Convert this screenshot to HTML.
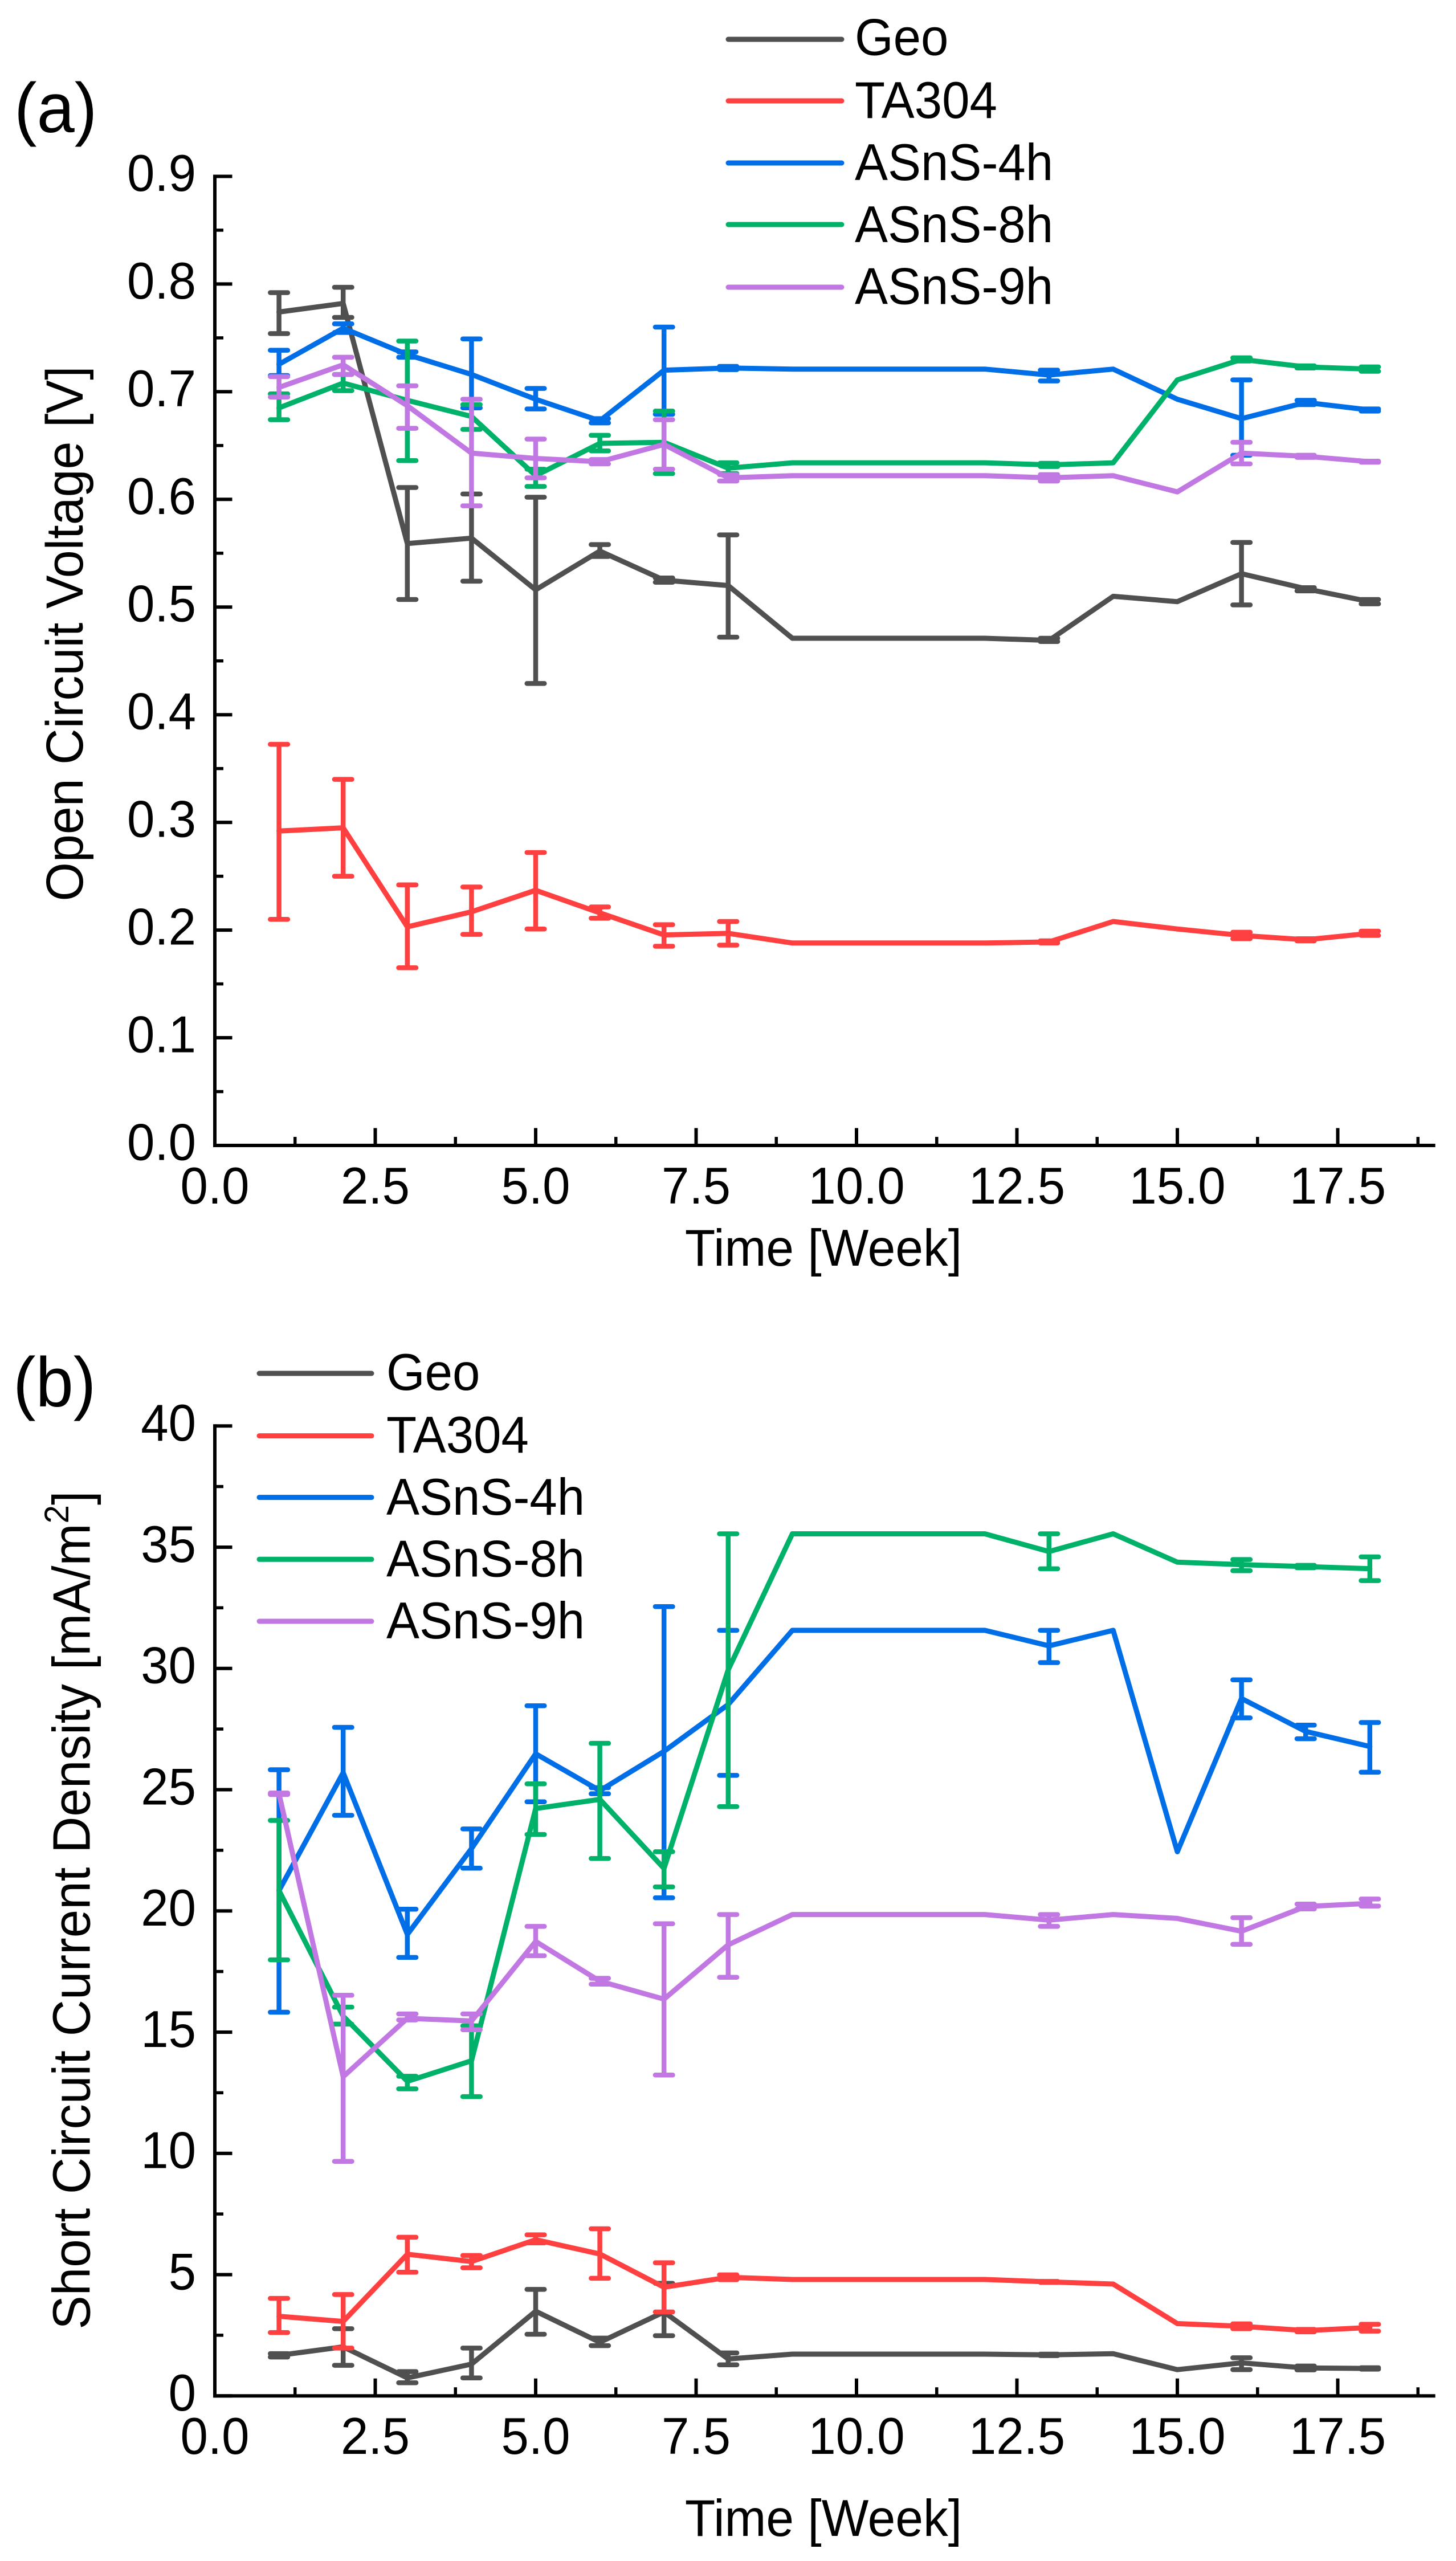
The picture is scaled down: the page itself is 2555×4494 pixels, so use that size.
<!DOCTYPE html>
<html lang="en">
<head>
<meta charset="utf-8">
<title>Open circuit voltage and short circuit current density over time</title>
<style>
html,body{margin:0;padding:0;background:#fff}
svg{display:block}
text{font-family:"Liberation Sans",Arial,sans-serif;fill:#000}
</style>
</head>
<body>
<svg id="figure" xmlns="http://www.w3.org/2000/svg" width="2555" height="4494" viewBox="0 0 2555 4494">
  <rect x="0" y="0" width="2555" height="4494" fill="#fff"/>

  <text x="25" y="232" font-size="119">(a)</text>
  <text x="23" y="2468" font-size="119">(b)</text>

  <text x="145" y="1112" font-size="88" text-anchor="middle" transform="rotate(-90 145 1112)">Open Circuit Voltage [V]</text>
  <text x="1445" y="2221" font-size="87.5" text-anchor="middle">Time [Week]</text>
  <text x="157.5" y="3352" font-size="89" text-anchor="middle" transform="rotate(-90 157.5 3352)">Short Circuit Current Density [mA/m<tspan dy="-36" font-size="58">2</tspan><tspan dy="36">]</tspan></text>
  <text x="1445" y="4450" font-size="87.5" text-anchor="middle">Time [Week]</text>

  <g id="panel-a"></g>
  <g id="panel-b"></g>

  <g stroke-width="9" stroke-linecap="round">
    <g><line x1="1278" y1="69" x2="1477" y2="69" stroke="#505050"/><text x="1500" y="96.5" font-size="87" stroke="none">Geo</text></g>
    <g><line x1="1278" y1="177" x2="1477" y2="177" stroke="#ff4040"/><text x="1500" y="207" font-size="87" stroke="none">TA304</text></g>
    <g><line x1="1278" y1="286" x2="1477" y2="286" stroke="#006ee6"/><text x="1500" y="316" font-size="87" stroke="none">ASnS-4h</text></g>
    <g><line x1="1278" y1="394" x2="1477" y2="394" stroke="#00b16a"/><text x="1500" y="425" font-size="87" stroke="none">ASnS-8h</text></g>
    <g><line x1="1278" y1="504" x2="1477" y2="504" stroke="#c278e2"/><text x="1500" y="533.5" font-size="87" stroke="none">ASnS-9h</text></g>
  </g>
  <g stroke-width="9" stroke-linecap="round">
    <g><line x1="455" y1="2410" x2="652" y2="2410" stroke="#505050"/><text x="678" y="2439" font-size="87" stroke="none">Geo</text></g>
    <g><line x1="455" y1="2519.6" x2="652" y2="2519.6" stroke="#ff4040"/><text x="678" y="2549" font-size="87" stroke="none">TA304</text></g>
    <g><line x1="455" y1="2627.6" x2="652" y2="2627.6" stroke="#006ee6"/><text x="678" y="2658" font-size="87" stroke="none">ASnS-4h</text></g>
    <g><line x1="455" y1="2736.3" x2="652" y2="2736.3" stroke="#00b16a"/><text x="678" y="2766.5" font-size="87" stroke="none">ASnS-8h</text></g>
    <g><line x1="455" y1="2845" x2="652" y2="2845" stroke="#c278e2"/><text x="678" y="2875" font-size="87" stroke="none">ASnS-9h</text></g>
  </g>
</svg>

<script>
// ---- shared categories ----
const weeks = [1, 2, 3, 4, 5, 6, 7, 8, 9, 12, 13, 14, 15, 16, 17, 18];
const xTickLabels = ['0.0', '2.5', '5.0', '7.5', '10.0', '12.5', '15.0', '17.5'];
const xMinorTicks = [1.25, 3.75, 6.25, 8.75, 11.25, 13.75, 16.25, 18.75];
const seriesNames = ['geo', 'ta304', 'asns-4h', 'asns-8h', 'asns-9h'];
const seriesColors = ['#505050', '#ff4040', '#006ee6', '#00b16a', '#c278e2'];

// ---- panel (a): open circuit voltage [V] ----
const vocTickLabels = ['0.0', '0.1', '0.2', '0.3', '0.4', '0.5', '0.6', '0.7', '0.8', '0.9'];
const vocMinorTicks = [0.05, 0.15, 0.25, 0.35, 0.45, 0.55, 0.65, 0.75, 0.85];

const vocGeo   = [0.774, 0.782, 0.559, 0.564, 0.516, 0.552, 0.525, 0.520, 0.471, 0.471, 0.469, 0.510, 0.505, 0.531, 0.517, 0.505];
const vocGeoHi = [0.792, 0.797, 0.611, 0.605, 0.602, 0.558, 0.527, 0.567, null, null, 0.471, null, null, 0.560, 0.518, 0.507];
const vocGeoLo = [0.754, 0.769, 0.507, 0.524, 0.429, 0.547, 0.523, 0.472, null, null, 0.468, null, null, 0.502, 0.515, 0.503];

const vocTa   = [0.292, 0.295, 0.203, 0.217, 0.237, 0.216, 0.1955, 0.197, 0.188, 0.188, 0.189, 0.208, 0.201, 0.195, 0.191, 0.197];
const vocTaHi = [0.3725, 0.340, 0.242, 0.240, 0.272, 0.2215, 0.205, 0.208, null, null, 0.190, null, null, 0.198, 0.192, 0.199];
const vocTaLo = [0.210, 0.250, 0.165, 0.196, 0.201, 0.211, 0.185, 0.186, null, null, 0.188, null, null, 0.192, 0.190, 0.195];

const voc4h   = [0.7255, 0.759, 0.7345, 0.716, 0.693, 0.673, 0.720, 0.722, 0.721, 0.721, 0.7155, 0.721, 0.693, 0.675, 0.690, 0.683];
const voc4hHi = [0.7385, 0.763, 0.737, 0.749, 0.703, 0.675, 0.760, 0.7235, null, null, 0.720, null, null, 0.711, 0.692, 0.684];
const voc4hLo = [0.715, 0.755, 0.732, 0.685, 0.684, 0.671, 0.679, 0.7205, null, null, 0.710, null, null, 0.641, 0.688, 0.682];

const voc8h   = [0.685, 0.708, 0.692, 0.677, 0.622, 0.652, 0.653, 0.629, 0.634, 0.634, 0.632, 0.634, 0.711, 0.730, 0.723, 0.721];
const voc8hHi = [0.698, 0.716, 0.747, 0.688, 0.628, 0.6595, 0.682, 0.634, null, null, 0.6335, null, null, 0.7315, 0.724, 0.723];
const voc8hLo = [0.674, 0.701, 0.636, 0.665, 0.612, 0.645, 0.624, 0.624, null, null, 0.6305, null, null, 0.7285, 0.722, 0.719];

const voc9h   = [0.704, 0.725, 0.687, 0.643, 0.638, 0.635, 0.651, 0.620, 0.622, 0.622, 0.620, 0.622, 0.607, 0.643, 0.640, 0.635];
const voc9hHi = [0.714, 0.732, 0.7055, 0.693, 0.656, 0.637, 0.674, 0.623, null, null, 0.623, null, null, 0.653, 0.641, 0.6355];
const voc9hLo = [0.695, 0.716, 0.666, 0.594, 0.620, 0.633, 0.628, 0.617, null, null, 0.617, null, null, 0.633, 0.639, 0.6345];

// ---- panel (b): short circuit current density [mA/m2] ----
const jscTickLabels = ['0', '5', '10', '15', '20', '25', '30', '35', '40'];
const jscMinorTicks = [2.5, 7.5, 12.5, 17.5, 22.5, 27.5, 32.5, 37.5];

const jscGeo   = [1.67, 2.02, 0.74, 1.31, 3.49, 2.21, 3.46, 1.52, 1.72, 1.72, 1.69, 1.74, 1.08, 1.36, 1.15, 1.13];
const jscGeoHi = [1.74, 2.77, 1.00, 1.97, 4.39, 2.38, 4.64, 1.77, null, null, 1.72, null, null, 1.57, 1.23, 1.16];
const jscGeoLo = [1.60, 1.26, 0.54, 0.74, 2.54, 2.07, 2.48, 1.28, null, null, 1.66, null, null, 1.08, 1.07, 1.10];

const jscTa   = [3.28, 3.07, 5.84, 5.54, 6.44, 5.85, 4.48, 4.89, 4.80, 4.80, 4.70, 4.61, 2.98, 2.87, 2.69, 2.82];
const jscTaHi = [4.02, 4.18, 6.54, 5.79, 6.64, 6.89, 5.49, 4.99, null, null, 4.72, null, null, 2.97, 2.74, 2.95];
const jscTaLo = [2.61, 1.97, 5.10, 5.28, 6.31, 4.85, 3.46, 4.79, null, null, 4.68, null, null, 2.77, 2.64, 2.67];

const jsc4h   = [20.84, 25.70, 19.03, 22.57, 26.48, 24.96, 26.58, 28.51, 31.57, 31.57, 30.93, 31.57, 22.44, 28.76, 27.40, 26.78];
const jsc4hHi = [25.82, 27.57, 20.07, 23.38, 28.46, 25.08, 32.55, 31.57, null, null, 31.57, null, null, 29.53, 27.66, 27.77];
const jsc4hLo = [15.82, 23.94, 18.08, 21.76, 24.50, 24.83, 20.54, 25.59, null, null, 30.24, null, null, 27.96, 27.10, 25.72];

const jsc8h   = [20.84, 15.66, 12.97, 13.82, 24.22, 24.60, 21.75, 29.94, 35.55, 35.55, 34.82, 35.55, 34.38, 34.28, 34.20, 34.11];
const jsc8hHi = [23.73, 16.03, 13.18, 15.26, 25.24, 26.91, 22.44, 35.55, null, null, 35.55, null, null, 34.49, 34.25, 34.60];
const jsc8hLo = [17.98, 15.33, 12.66, 12.34, 23.15, 22.16, 20.99, 24.30, null, null, 34.11, null, null, 34.03, 34.15, 33.62];

const jsc9h   = [24.83, 13.16, 15.57, 15.46, 18.74, 17.10, 16.36, 18.60, 19.85, 19.85, 19.62, 19.85, 19.69, 19.16, 20.18, 20.31];
const jsc9hHi = [24.86, 16.52, 15.75, 15.75, 19.36, 17.22, 19.47, 19.85, null, null, 19.85, null, null, 19.72, 20.28, 20.49];
const jsc9hLo = [24.80, 9.67, 15.50, 15.10, 18.15, 16.98, 13.23, 17.26, null, null, 19.36, null, null, 18.62, 20.08, 20.20];

// ---- layout ----
const NS = 'http://www.w3.org/2000/svg';
const AXIS_LEFT = 377, X_PER_UNIT = 112.6, X_MAX = 19.02;
const xScale = v => AXIS_LEFT + v * X_PER_UNIT;
const yScaleA = v => 2010 - v * 1889.5;
const yScaleB = v => 4204.2 - v * 42.55;

function make(tag, attrs) {
  const el = document.createElementNS(NS, tag);
  for (const k in attrs) el.setAttribute(k, attrs[k]);
  return el;
}

function drawAxes(g, yScale, yLabels, yMinor, yMaxVal, xLabelBase, yLabelOffset) {
  const yTop = yScale(yMaxVal), yBase = yScale(0);

  yMinor.forEach(v => {
    const t = make('line', {x1: AXIS_LEFT, x2: AXIS_LEFT + 15, y1: yScale(v), y2: yScale(v), stroke: '#000', 'stroke-width': 5.5});
    
    
    g.appendChild(t);
  });
  yLabels.forEach(lbl => {
    const v = parseFloat(lbl);
    const t = make('line', {x1: AXIS_LEFT, x2: AXIS_LEFT + 30.5, y1: yScale(v), y2: yScale(v), stroke: '#000', 'stroke-width': 6});
    
    
    g.appendChild(t);
    const txt = make('text', {x: 344, y: yScale(v) + yLabelOffset, 'font-size': 87, 'text-anchor': 'end'});
    
    
    txt.textContent = lbl;
    g.appendChild(txt);
  });
  xMinorTicks.forEach(v => {
    const t = make('line', {x1: xScale(v), x2: xScale(v), y1: yBase, y2: yBase - 15, stroke: '#000', 'stroke-width': 5.5});
    
    
    g.appendChild(t);
  });
  xTickLabels.forEach(lbl => {
    const v = parseFloat(lbl);
    const t = make('line', {x1: xScale(v), x2: xScale(v), y1: yBase, y2: yBase - 30.5, stroke: '#000', 'stroke-width': 6});
    
    
    g.appendChild(t);
    const txt = make('text', {x: xScale(v), y: xLabelBase, 'font-size': 87, 'text-anchor': 'middle'});
    
    
    txt.textContent = lbl;
    g.appendChild(txt);
  });

  const ya = make('line', {x1: AXIS_LEFT, x2: AXIS_LEFT, y1: yTop - 3, y2: yBase + 3, stroke: '#000', 'stroke-width': 6});
  
  
  g.appendChild(ya);
  const xa = make('line', {x1: AXIS_LEFT - 3, x2: xScale(X_MAX), y1: yBase, y2: yBase, stroke: '#000', 'stroke-width': 6});
  
  
  g.appendChild(xa);
}

function drawSeries(g, yScale, idx, values, hi, lo) {
  const color = seriesColors[idx], name = seriesNames[idx];
  const sg = make('g', {});
  
  

  weeks.forEach((w, i) => {
    if (hi[i] === null || lo[i] === null) return;
    const x = xScale(w), yh = yScale(hi[i]), yl = yScale(lo[i]);
    const stem = make('line', {x1: x, x2: x, y1: yh, y2: yl, stroke: color, 'stroke-width': 8.5});
    
    
    sg.appendChild(stem);
    [yh, yl].forEach(y => {
      const cap = make('line', {x1: x - 15.3, x2: x + 15.3, y1: y, y2: y, stroke: color, 'stroke-width': 8.5, 'stroke-linecap': 'round'});
      
      
      sg.appendChild(cap);
    });
  });

  const pts = weeks.map((w, i) => xScale(w).toFixed(1) + ',' + yScale(values[i]).toFixed(1)).join(' ');
  const line = make('polyline', {points: pts, fill: 'none', stroke: color, 'stroke-width': 9, 'stroke-linejoin': 'round', 'stroke-linecap': 'round'});
  
  
  sg.appendChild(line);

  g.appendChild(sg);
}

const gA = document.getElementById('panel-a');
const gB = document.getElementById('panel-b');

drawAxes(gA, yScaleA, vocTickLabels, vocMinorTicks, 0.9, 2112, 25.5);
drawSeries(gA, yScaleA, 0, vocGeo, vocGeoHi, vocGeoLo);
drawSeries(gA, yScaleA, 1, vocTa, vocTaHi, vocTaLo);
drawSeries(gA, yScaleA, 2, voc4h, voc4hHi, voc4hLo);
drawSeries(gA, yScaleA, 3, voc8h, voc8hHi, voc8hLo);
drawSeries(gA, yScaleA, 4, voc9h, voc9hHi, voc9hLo);

drawAxes(gB, yScaleB, jscTickLabels, jscMinorTicks, 40, 4306, 26);
drawSeries(gB, yScaleB, 0, jscGeo, jscGeoHi, jscGeoLo);
drawSeries(gB, yScaleB, 1, jscTa, jscTaHi, jscTaLo);
drawSeries(gB, yScaleB, 2, jsc4h, jsc4hHi, jsc4hLo);
drawSeries(gB, yScaleB, 3, jsc8h, jsc8hHi, jsc8hLo);
drawSeries(gB, yScaleB, 4, jsc9h, jsc9hHi, jsc9hLo);

// The reference typeface has taller capitals than Liberation Sans: stretch glyph height slightly around each baseline.
document.querySelectorAll('text').forEach(t => {
  const x = t.getAttribute('x'), y = t.getAttribute('y');
  const prev = t.getAttribute('transform') || '';
  t.setAttribute('transform', prev + ' translate(' + x + ' ' + y + ') scale(1 1.04) translate(' + (-x) + ' ' + (-y) + ')');
});
</script>
</body>
</html>
